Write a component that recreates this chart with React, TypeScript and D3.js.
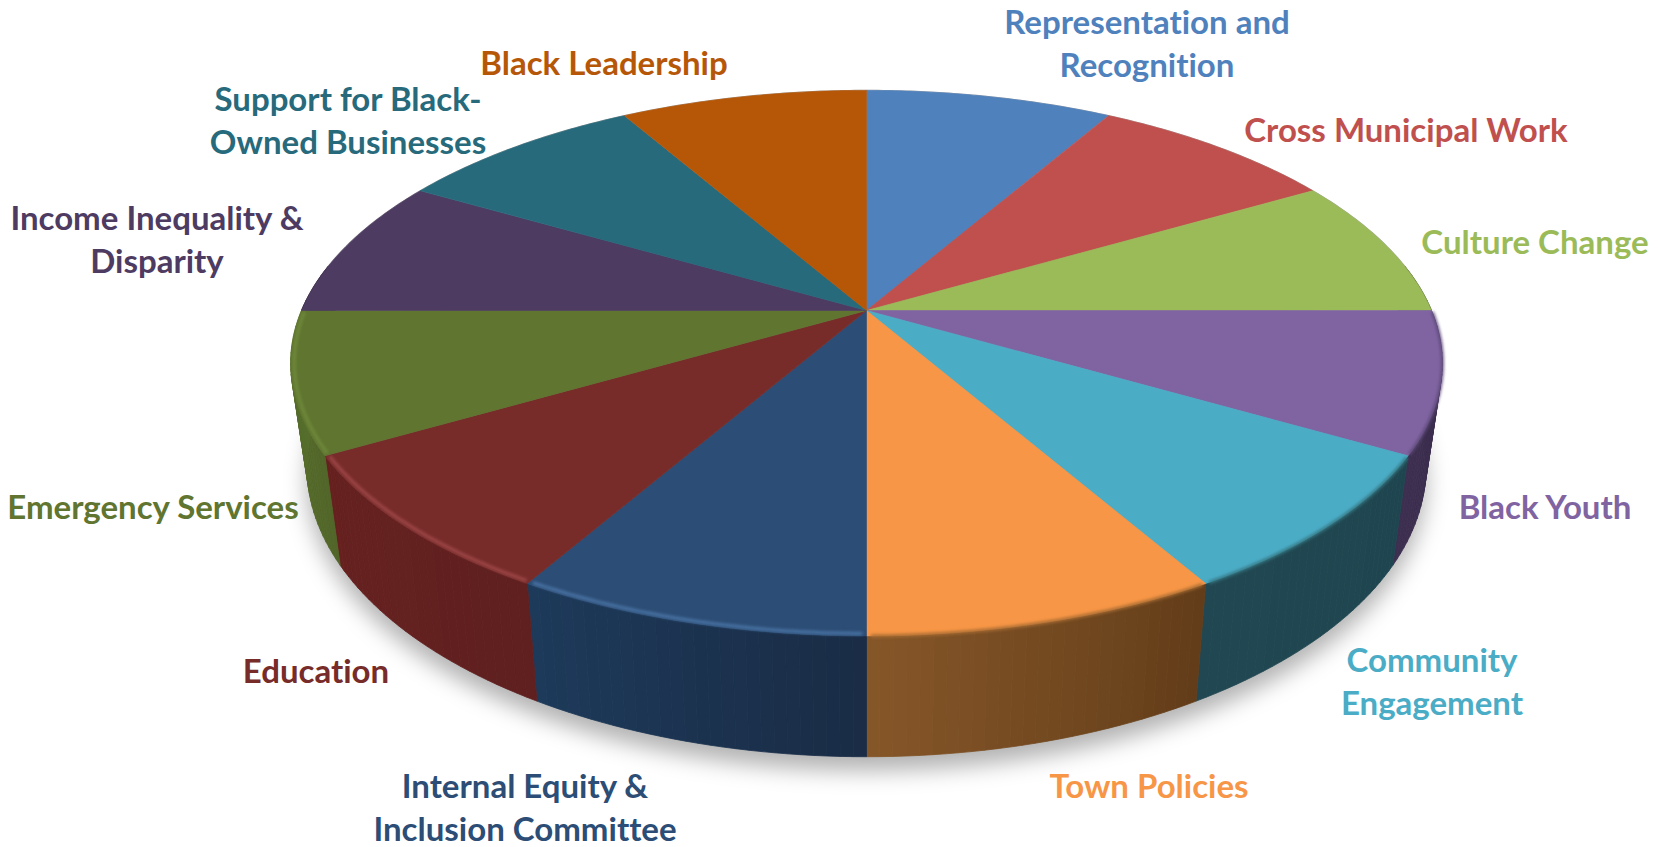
import React, { useMemo } from "react";
import * as d3 from "d3";

// Twelve equally weighted themes, clockwise from twelve o'clock.
const themes = [
  ["Representation and", "Recognition"],
  ["Cross Municipal Work"],
  ["Culture Change"],
  ["Black Youth"],
  ["Community", "Engagement"],
  ["Town Policies"],
  ["Internal Equity &", "Inclusion Committee"],
  ["Education"],
  ["Emergency Services"],
  ["Income Inequality &", "Disparity"],
  ["Support for Black-", "Owned Businesses"],
  ["Black Leadership"],
];
const shares = [1, 1, 1, 1, 1, 1, 1, 1, 1, 1, 1, 1];

const topColors = [
  "#4f81bd", "#c0504d", "#9bbb59", "#8064a2", "#4bacc6", "#f79646",
  "#2c4d75", "#772c2a", "#5f7530", "#4d3b62", "#276a7c", "#b65708",
];
const sideColorsA = [
  "#2f4d71", "#73302e", "#5d7035", "#3a2c4c", "#1f4650", "#633d19",
  "#1a2c46", "#5f201f", "#526629", "#2e2339", "#173f4a", "#6d3405",
];
const sideColorsB = [
  "#2f4d71", "#73302e", "#5d7035", "#3d2f50", "#214852", "#855628",
  "#1d3a5a", "#66211f", "#57702d", "#2e2339", "#173f4a", "#6d3405",
];
const rimColors = [
  "none", "none", "none", "#5f4b7a", "#357985", "#a86c32",
  "#4a74a6", "#a0474a", "#6f8a3a", "none", "none", "none",
];
const rimRadii = [1, 1, 1, 1, 1, 1, 0.994, 0.994, 0.994, 1, 1, 1];

// Centre and baseline of the first line of each label.
const labelAnchors = [
  [1147, 34], [1406, 142], [1535, 254], [1545, 519], [1432, 672], [1149, 798],
  [525, 798], [316, 683], [153, 519], [157, 230], [348, 111], [604, 75],
];
const LINE_HEIGHT = 43;

// Perspective projection of the disc: the far edge shrinks, the near edge grows.
const CX = 866.5;
const PERSPECTIVE = 0.193;
const topFace = { cy: 310.5, rx: 565, ry: 262.6 };
const bottomFace = { cy: 411, rx: 549, ry: 279 };

type Face = { cy: number; rx: number; ry: number };
const project = (face: Face, angle: number, r = 1): [number, number] => {
  const x = Math.sin(angle) * r;
  const y = -Math.cos(angle) * r;
  const s = 1 / (1 - PERSPECTIVE * y);
  return [CX + face.rx * x * s, face.cy + face.ry * y * s];
};

const line = d3.line();
const samples = (a0: number, a1: number, step = 0.01) => {
  const n = Math.max(2, Math.ceil((a1 - a0) / step));
  return d3.range(n + 1).map((i) => a0 + ((a1 - a0) * i) / n);
};

export default function App() {
  const arcs = useMemo(() => d3.pie<number>().sort(null)(shares), []);
  const bottomOutline = samples(0, Math.PI * 2).map((a) => project(bottomFace, a));
  const backRim = samples(-Math.PI / 2, Math.PI / 2).map((a) => project(topFace, a));

  return (
    <svg
      width={1667}
      height={847}
      viewBox="0 0 1667 847"
      style={{ position: "absolute", left: 0, top: 0, display: "block" }}
      fontFamily="Lato, 'Open Sans', sans-serif"
      fontWeight={700}
    >
      <defs>
        <filter id="cast" x="-20%" y="-20%" width="140%" height="140%">
          <feGaussianBlur stdDeviation="11" />
        </filter>
        <filter id="soft" x="-20%" y="-20%" width="140%" height="140%">
          <feGaussianBlur stdDeviation="1.8" />
        </filter>
      </defs>
      <rect width={1667} height={847} fill="#fff" />

      {/* Shadow cast below the disc */}
      <path
        d={line(bottomOutline) + "Z"}
        transform="translate(0 14)"
        fill="#000"
        fillOpacity={0.3}
        filter="url(#cast)"
      />

      {/* Outer wall of the disc, built from thin shaded strips */}
      {arcs.map((arc, i) => {
        const shade = d3.interpolateRgb(sideColorsA[i], sideColorsB[i]);
        const ends = samples(arc.startAngle, arc.endAngle, 0.02);
        return (
          <g key={i}>
            {ends.slice(1).map((a1, j) => {
              const a0 = ends[j];
              if (Math.cos((a0 + a1) / 2) > 0.17) return null;
              const color = shade(j / (ends.length - 2));
              const quad = [
                project(topFace, a0),
                project(topFace, a1),
                project(bottomFace, a1),
                project(bottomFace, a0),
              ] as [number, number][];
              return (
                <path
                  key={j}
                  d={line(quad) + "Z"}
                  fill={color}
                  stroke={color}
                  strokeWidth={0.8}
                />
              );
            })}
          </g>
        );
      })}

      {/* Faint outline along the far edge of the top surface */}
      <path
        d={line(backRim) ?? ""}
        fill="none"
        stroke="#000"
        strokeOpacity={0.35}
        strokeWidth={1.2}
      />

      {/* Top surface */}
      {arcs.map((arc, i) => {
        const rim = samples(arc.startAngle, arc.endAngle).map((a) => project(topFace, a));
        const wedge = [[CX, topFace.cy] as [number, number], ...rim];
        return (
          <path
            key={i}
            d={line(wedge) + "Z"}
            fill={topColors[i]}
            stroke={topColors[i]}
            strokeWidth={0.6}
          />
        );
      })}

      {/* Bevelled edge along the near half of the rim */}
      {arcs.map((arc, i) => {
        if (rimColors[i] === "none") return null;
        const rim = samples(arc.startAngle + 0.006, arc.endAngle - 0.006).map((a) =>
          project(topFace, a, rimRadii[i])
        );
        return (
          <path
            key={i}
            d={line(rim) ?? ""}
            fill="none"
            stroke={rimColors[i]}
            strokeWidth={3}
            filter="url(#soft)"
          />
        );
      })}

      {/* Category labels */}
      {themes.map((lines, i) => (
        <text
          key={i}
          x={labelAnchors[i][0]}
          y={labelAnchors[i][1]}
          fontSize={33}
          textAnchor="middle"
          fill={topColors[i]}
          style={{ fontVariantLigatures: "none" }}
        >
          {lines.map((t, j) => (
            <tspan key={j} x={labelAnchors[i][0]} dy={j === 0 ? 0 : LINE_HEIGHT}>
              {t}
            </tspan>
          ))}
        </text>
      ))}
    </svg>
  );
}
